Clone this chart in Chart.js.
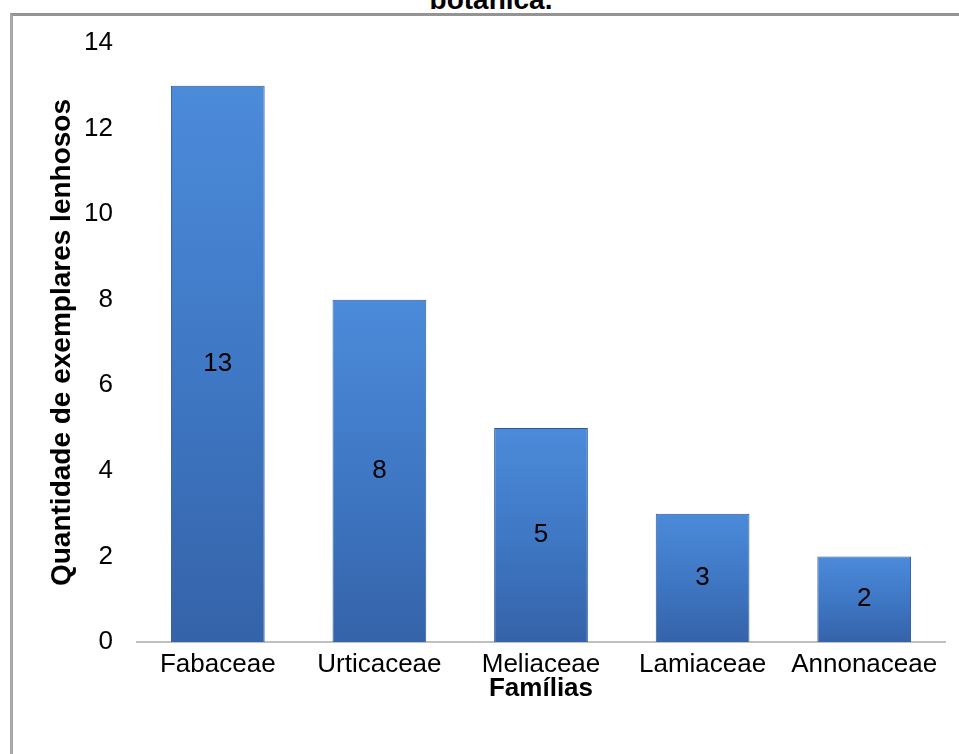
<!DOCTYPE html>
<html>
<head>
<meta charset="utf-8">
<script src="https://cdn.jsdelivr.net/npm/chart.js@4"></script>
<style>
  body { margin: 0; background: #fff; overflow: hidden; }
  #wrap { position: relative; width: 959px; height: 754px; overflow: hidden; }
  #frame { position: absolute; left: 10px; top: 13px; width: 970px; height: 770px;
           border-left: 3px solid #a8a8a8; border-top: 3px solid #949494; }
  #title { position: absolute; top: -14px; left: 0; width: 982px; text-align: center;
           font: bold 28px "Liberation Sans", Arial, sans-serif; line-height: 28px; color: #000; }
  canvas { position: absolute; left: 0; top: 0; }
</style>
</head>
<body>
<div id="wrap">
  <div id="frame"></div>
  <div id="title">botânica.</div>
  <canvas id="myChart" width="959" height="754"></canvas>
</div>
<script>
const familias = ['Fabaceae', 'Urticaceae', 'Meliaceae', 'Lamiaceae', 'Annonaceae'];
const quantidades = [13, 8, 5, 3, 2];
const yTicks = [0, 2, 4, 6, 8, 10, 12, 14];

const font = '"Liberation Sans", Arial, sans-serif';

// value labels in the middle of each bar
const valueLabels = {
    id: 'valueLabels',
    afterDatasetsDraw(chart) {
        const ctx = chart.ctx;
        const meta = chart.getDatasetMeta(0);
        ctx.save();
        ctx.font = '26px ' + font;
        ctx.fillStyle = '#000';
        ctx.textAlign = 'center';
        ctx.textBaseline = 'middle';
        meta.data.forEach((bar, i) => {
            ctx.fillText(String(quantidades[i]), bar.x, (bar.y + bar.base) / 2);
        });
        ctx.restore();
    }
};

// each bar gets its own top-to-bottom shading
function barFill(c) {
    const chart = c.chart;
    const y = chart.scales.y;
    if (!chart.chartArea || !y || c.type !== 'data') return '#3F74BE';
    const top = y.getPixelForValue(quantidades[c.dataIndex]);
    const bottom = y.getPixelForValue(0);
    const g = chart.ctx.createLinearGradient(0, top, 0, bottom);
    g.addColorStop(0, '#4C8BDA');
    g.addColorStop(0.5, '#3F78C5');
    g.addColorStop(1, '#3563A9');
    return g;
}

const ctx = document.getElementById('myChart');

new Chart(ctx, {
    type: 'bar',
    data: {
        labels: familias,
        datasets: [
            {
                data: quantidades,
                backgroundColor: barFill,
                borderColor: '#2E5995',
                borderWidth: 1,
                barPercentage: 0.58,
                categoryPercentage: 1,
            }
        ]
    },
    options: {
        responsive: false,
        animation: false,
        layout: {
            padding: { top: 43, right: 14, bottom: 0, left: 0 }
        },
        plugins: {
            legend: { display: false },
            tooltip: { enabled: false },
            title: { display: false }
        },
        scales: {
            x: {
                grid: { display: true, color: 'rgba(0,0,0,0)', drawTicks: false },
                border: { display: true, color: '#c0c0c0', width: 2 },
                ticks: { color: '#000', font: { size: 26, family: font }, padding: 7, maxRotation: 0 },
                title: {
                    display: true,
                    text: 'Famílias',
                    color: '#000',
                    font: { size: 26, weight: 'bold', family: font },
                    padding: { top: 0, bottom: 50 }
                },
                afterFit: (scale) => { scale.height = 112; }
            },
            y: {
                min: 0,
                max: 14,
                afterBuildTicks: (scale) => { scale.ticks = yTicks.map(v => ({ value: v })); },
                grid: { display: false, drawTicks: false },
                border: { display: false },
                ticks: { color: '#000', font: { size: 26, family: font }, padding: 24 },
                title: {
                    display: true,
                    text: 'Quantidade de exemplares lenhosos',
                    color: '#000',
                    font: { size: 28, weight: 'bold', family: font },
                    padding: { top: 45, bottom: 0 }
                },
                afterFit: (scale) => { scale.width = 137; }
            }
        }
    },
    plugins: [valueLabels]
});
</script>
</body>
</html>
